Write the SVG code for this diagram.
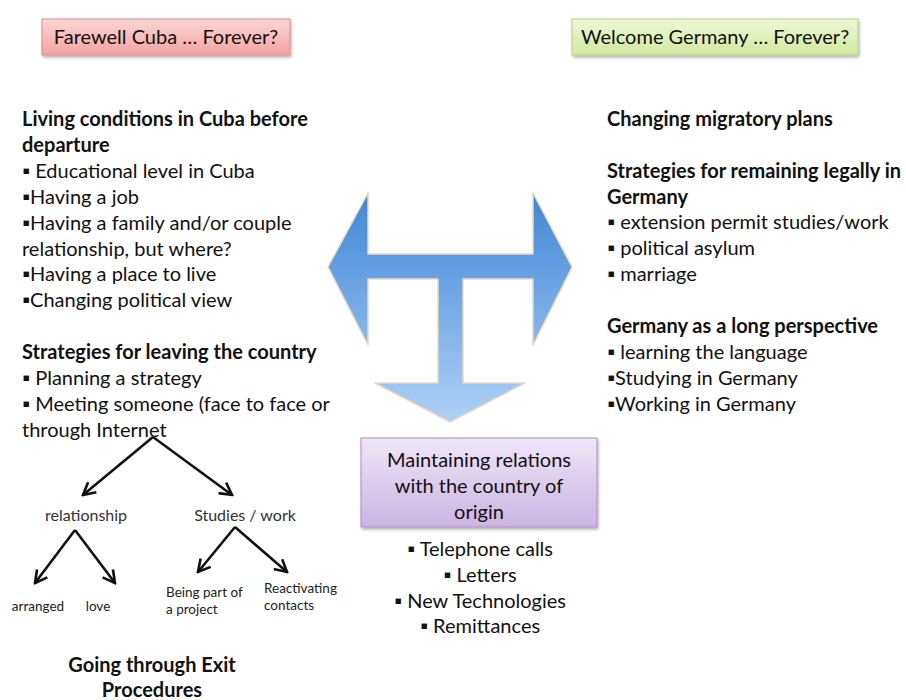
<svg xmlns="http://www.w3.org/2000/svg" width="906" height="700" viewBox="0 0 906 700">
<defs>
<linearGradient id="gRed" x1="0" y1="0" x2="0" y2="1"><stop offset="0" stop-color="#fcd6d6"/><stop offset="1" stop-color="#f3a2a2"/></linearGradient>
<linearGradient id="gGreen" x1="0" y1="0" x2="0" y2="1"><stop offset="0" stop-color="#eef8d6"/><stop offset="1" stop-color="#d2e8a0"/></linearGradient>
<linearGradient id="gPurple" x1="0" y1="0" x2="0" y2="1"><stop offset="0" stop-color="#efe6f6"/><stop offset="1" stop-color="#cbb4e2"/></linearGradient>
<linearGradient id="gBlue" gradientUnits="userSpaceOnUse" x1="0" y1="193" x2="0" y2="422"><stop offset="0" stop-color="#3f86d6"/><stop offset="1" stop-color="#aed1f6"/></linearGradient>
<filter id="sh" x="-10%" y="-20%" width="120%" height="150%"><feDropShadow dx="1" dy="2" stdDeviation="1.5" flood-color="#000" flood-opacity="0.3"/></filter>
<marker id="ah" viewBox="0 0 16 16" refX="14" refY="8" markerWidth="16" markerHeight="16" markerUnits="userSpaceOnUse" orient="auto"><path d="M2,1.5 L14,8 L2,14.5" fill="none" stroke="#111" stroke-width="2.6"/></marker>
</defs>
<style>
text{font-family:Lato,"Open Sans","Liberation Sans",sans-serif;fill:#111}
.h{font-size:20px;font-weight:bold}
.t{font-size:20px}
.c{text-anchor:middle}
.s{font-size:16px;fill:#333}
.xs{font-size:13.5px;fill:#222}
.line{stroke:#111;stroke-width:2.6;fill:none;marker-end:url(#ah)}
</style>
<rect width="906" height="700" fill="#fff"/>
<g id="farewell">
<rect x="42" y="19" width="248" height="36" fill="url(#gRed)" stroke="#d98c8c" stroke-width="1" filter="url(#sh)"/>
<text class="t c" x="166" y="44">Farewell Cuba … Forever?</text>
</g>
<g id="welcome">
<rect x="572" y="19" width="286" height="36" fill="url(#gGreen)" stroke="#b9cf86" stroke-width="1" filter="url(#sh)"/>
<text class="t c" x="715" y="44">Welcome Germany … Forever?</text>
</g>
<g id="left-text">
<text class="h" x="22" y="126">Living conditions in Cuba before</text>
<text class="h" x="22" y="152">departure</text>
<text class="t" x="22" y="178">▪ Educational level in Cuba</text>
<text class="t" x="22" y="204">▪Having a job</text>
<text class="t" x="22" y="230">▪Having a family and/or couple</text>
<text class="t" x="22" y="256">relationship, but where?</text>
<text class="t" x="22" y="281">▪Having a place to live</text>
<text class="t" x="22" y="307">▪Changing political view</text>
<text class="h" x="22" y="359">Strategies for leaving the country</text>
<text class="t" x="22" y="385">▪ Planning a strategy</text>
<text class="t" x="22" y="411">▪ Meeting someone (face to face or</text>
<text class="t" x="22" y="437">through Internet</text>
</g>
<g id="right-text">
<text class="h" x="607" y="126">Changing migratory plans</text>
<text class="h" x="607" y="178">Strategies for remaining legally in</text>
<text class="h" x="607" y="204">Germany</text>
<text class="t" x="607" y="229">▪ extension permit studies/work</text>
<text class="t" x="607" y="255">▪ political asylum</text>
<text class="t" x="607" y="281">▪ marriage</text>
<text class="h" x="607" y="333">Germany as a long perspective</text>
<text class="t" x="607" y="359">▪ learning the language</text>
<text class="t" x="607" y="385">▪Studying in Germany</text>
<text class="t" x="607" y="411">▪Working in Germany</text>
</g>
<g id="big-arrow">
<path d="M328,267 L368,193 L368,254 L533,254 L533,193 L572,267 L533,345 L533,279 L463,279 L463,383 L525,383 L450,422 L375,383 L438,383 L438,279 L368,279 L368,345 Z" fill="url(#gBlue)" stroke="#e8d8c0" stroke-width="1.5" stroke-linejoin="round"/>
</g>
<g id="maintaining">
<rect x="361" y="438" width="236" height="89" fill="url(#gPurple)" stroke="#a890c4" stroke-width="1" filter="url(#sh)"/>
<text class="t c" x="479" y="467">Maintaining relations</text>
<text class="t c" x="479" y="493">with the country of</text>
<text class="t c" x="479" y="519">origin</text>
</g>
<g id="maintaining-list">
<text class="t c" x="480" y="556">▪ Telephone calls</text>
<text class="t c" x="480" y="582">▪ Letters</text>
<text class="t c" x="480" y="608">▪ New Technologies</text>
<text class="t c" x="480" y="633">▪ Remittances</text>
</g>
<g id="relationship"><text class="s c" x="86" y="521">relationship</text></g>
<g id="studies-work"><text class="s c" x="245" y="521">Studies / work</text></g>
<g id="arranged"><text class="xs c" x="38" y="611">arranged</text></g>
<g id="love"><text class="xs c" x="98" y="611">love</text></g>
<g id="being-part"><text class="xs" x="166" y="597">Being part of</text><text class="xs" x="166" y="614">a project</text></g>
<g id="reactivating"><text class="xs" x="264" y="593">Reactivating</text><text class="xs" x="264" y="610">contacts</text></g>
<g id="exit">
<text class="h c" x="152" y="672">Going through Exit</text>
<text class="h c" x="152" y="697">Procedures</text>
</g>
<g id="connectors">
<line class="line" x1="153" y1="437" x2="83" y2="495"/>
<line class="line" x1="153" y1="437" x2="232" y2="495"/>
<line class="line" x1="75" y1="530" x2="35" y2="583"/>
<line class="line" x1="75" y1="530" x2="115" y2="583"/>
<line class="line" x1="235" y1="527" x2="198" y2="572"/>
<line class="line" x1="235" y1="527" x2="287" y2="572"/>
</g>
</svg>
